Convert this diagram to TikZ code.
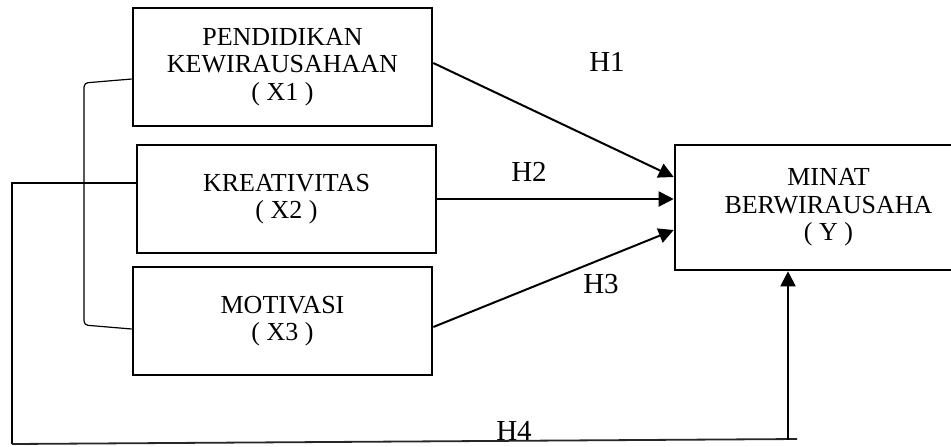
\documentclass[tikz,border=0pt]{standalone}
\usepackage{fontspec}
\setmainfont{Liberation Serif}
\usetikzlibrary{arrows.meta}

\begin{document}
\begin{tikzpicture}[x=0.5pt, y=-0.5pt,
    varbox/.style={draw, line width=1.3pt, align=center, inner sep=0pt,
      font=\fontsize{13}{13.75}\selectfont},
    hyp/.style={font=\fontsize{14.5}{15}\selectfont},
    arah/.style={-{Triangle[length=7.5pt, width=7.5pt]}, line width=1pt}]
  \useasboundingbox (0,0) rectangle (951,446);
  \clip (0,0) rectangle (951,446);

  % Variabel bebas
  \node[varbox, minimum width=149.5pt, minimum height=59pt] (x1) at (282.5,67) {PENDIDIKAN\\KEWIRAUSAHAAN\\( X1 )};
  \node[varbox, minimum width=149.5pt, minimum height=54pt] (x2) at (286.5,199) {KREATIVITAS\\( X2 )};
  \node[varbox, minimum width=149.5pt, minimum height=54pt] (x3) at (282.5,321) {MOTIVASI\\( X3 )};

  % Variabel terikat
  \node[varbox, minimum width=153.5pt, minimum height=62.5pt] (y) at (828.5,207.5) {MINAT\\BERWIRAUSAHA\\( Y )};

  % Hipotesis parsial
  \draw[arah] ([yshift=2pt]x1.east) -- ([yshift=15.25pt]y.west);
  \draw[arah] (x2.east) -- (x2.east -| y.west);
  \draw[arah] ([yshift=-3pt]x3.east) -- ([yshift=-11.25pt]y.west);

  \node[hyp] (h1) at (607,62) {H1};
  \node[hyp] (h2) at (529,172) {H2};
  \node[hyp] (h3) at (601,284) {H3};
  \node[hyp] (h4) at (514,431) {H4};

  % Kurung X1 - X3
  \draw[line width=0.6pt, rounded corners=2pt] ([yshift=-6pt]x1.west) -- (84,83) -- (84,325) -- ([yshift=-4pt]x3.west);

  % Hipotesis simultan
  \coordinate (lc) at (12,183);
  \coordinate (lb) at (12,444);
  \coordinate (rb) at (797,439);
  \coordinate (ra) at (788,439.5);
  \draw[line width=0.6pt] ([yshift=8pt]x2.west) -- (lc) -- (lb);
  \draw[line width=0.9pt, black!85] (lb) -- (rb);
  \draw[arah] (ra) -- (ra |- y.south);
\end{tikzpicture}
\end{document}
